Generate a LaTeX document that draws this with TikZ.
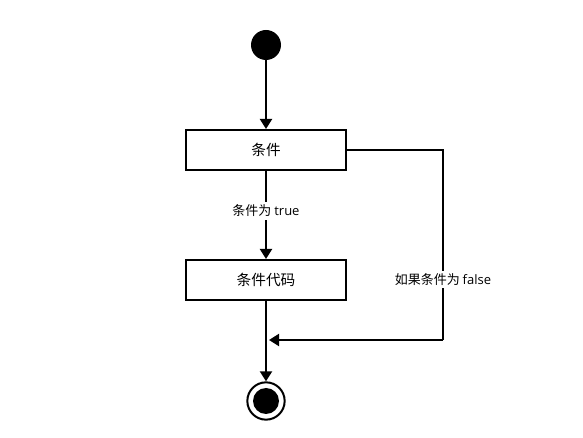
\documentclass[tikz,border=0pt]{standalone}
\usepackage{fontspec}
\setmainfont{Noto Sans CJK SC}
\newfontfamily\latinf{Open Sans}
\usetikzlibrary{arrows.meta}
\begin{document}
\begin{tikzpicture}[x=0.75pt,y=-0.75pt,
  conn/.style={line width=1.5pt,-{Triangle[width=9pt,length=7.5pt]}},
  plain/.style={line width=1.5pt},
  actbox/.style={draw,line width=1.5pt,minimum width=120pt,minimum height=30pt,inner sep=0pt,font=\fontsize{11pt}{13pt}\selectfont},
  lbl/.style={fill=white,inner sep=2pt,font=\fontsize{9.75pt}{11pt}\selectfont}]
\useasboundingbox (0,0) rectangle (583,438);
\node[circle,fill=black,minimum size=22.5pt,inner sep=0pt] (start) at (266,45) {};
\node[actbox] (cond) at (266,150) {条件};
\node[actbox] (code) at (266,280) {条件代码};
\node[circle,draw,line width=1.5pt,minimum size=28pt,inner sep=0pt] (end) at (266,401) {};
\node[circle,fill=black,minimum size=19.5pt,inner sep=0pt] (endin) at (266,401) {};
\coordinate (c1) at (443,150);
\coordinate (c2) at (443,340);
\coordinate (merge) at (269,340);
\draw[conn] (start) -- (cond);
\draw[conn] (cond) -- node[lbl,pos=0.455] (tl) {条件为 {\latinf true}} (code);
\draw[conn] (code) -- (end);
\draw[plain] (cond.east) -- (c1) -- node[lbl,pos=0.68] (fl) {如果条件为 {\latinf false}} (c2);
\draw[conn] (c2) -- (merge);
\end{tikzpicture}
\end{document}
